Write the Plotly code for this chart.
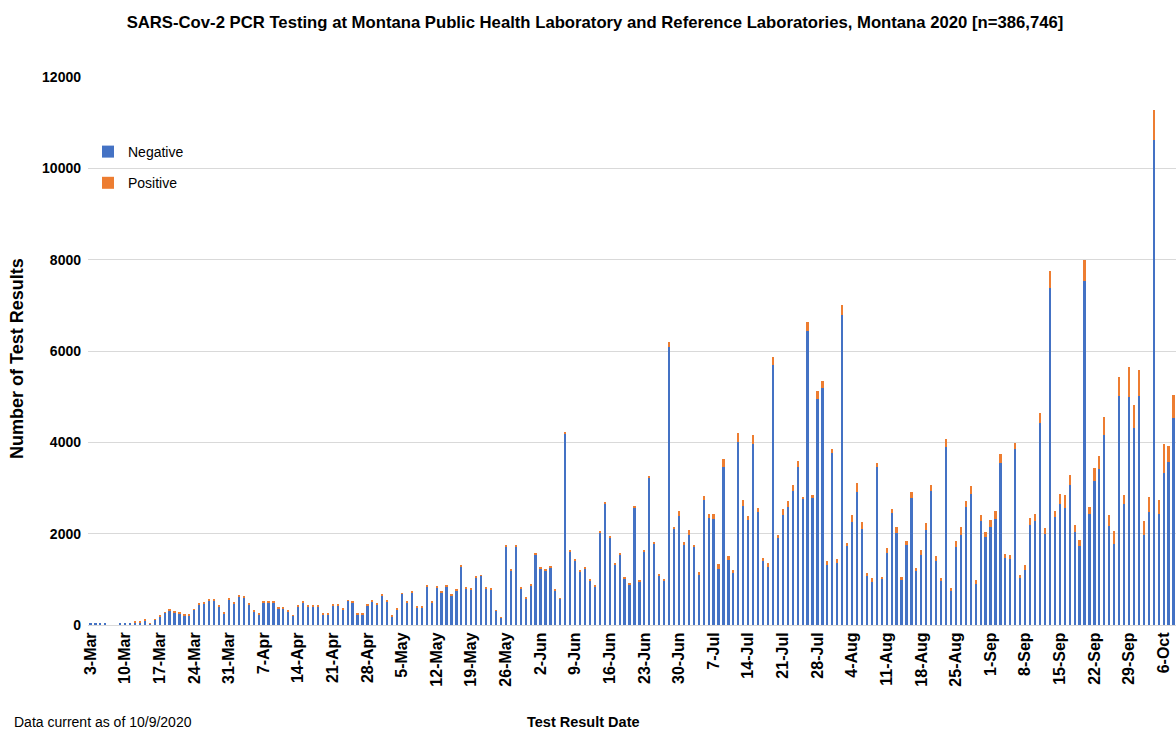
import pandas as pd
import plotly.graph_objects as go

# Daily categories: 3-Mar-2020 .. 8-Oct-2020
dates = pd.date_range("2020-03-03", "2020-10-08", freq="D")
categories = [f"{d.day}-{d.strftime('%b')}" for d in dates]

negative = [
    35, 40, 35, 40, 0, 0, 40, 45, 50, 55,
    55, 90, 40, 110, 180, 270, 315, 270, 260, 200,
    200, 330, 450, 475, 535, 535, 395, 255, 550, 470,
    630, 600, 455, 295, 235, 485, 485, 500, 355, 355,
    295, 205, 415, 495, 395, 395, 395, 240, 240, 425,
    425, 335, 530, 495, 235, 235, 420, 510, 440, 640,
    510, 195, 350, 680, 490, 710, 390, 390, 850, 490,
    825, 710, 850, 655, 765, 1290, 790, 770, 1040, 1075,
    790, 775, 310, 165, 1725, 1190, 1725, 800, 580, 860,
    1540, 1230, 1200, 1265, 760, 585, 4190, 1610, 1415, 1165,
    1235, 985, 845, 2020, 2670, 1920, 1325, 1540, 1015, 895,
    2580, 960, 1610, 3230, 1795, 1085, 980, 6090, 2115, 2380,
    1760, 1980, 1710, 1100, 2730, 2350, 2330, 1230, 3470, 1415,
    1140, 4010, 2600, 2290, 3970, 2470, 1400, 1280, 5690, 1910,
    2410, 2590, 2940, 3470, 2750, 6440, 2790, 4940, 5200, 1310,
    3760, 1350, 6790, 1750, 2260, 2920, 2095, 1070, 950, 3450,
    1020, 1570, 2445, 2020, 990, 1745, 2780, 1180, 1525, 2090,
    2935, 1395, 965, 3900, 760, 1710, 1965, 2585, 2875, 905,
    2280, 1930, 2145, 2330, 3555, 1470, 1435, 3860, 1035, 1210,
    2190, 2280, 4430, 2000, 7390, 2370, 2650, 2560, 3060, 2040,
    1730, 7540, 2440, 3150, 3410, 4150, 2160, 1780, 5020, 2650,
    4990, 4320, 5020, 1970, 2470, 10630, 2430, 3320, 3560, 4530,
]

positive = [
    0, 0, 0, 0, 0, 0, 0, 0, 0, 15,
    15, 20, 2, 20, 20, 10, 25, 20, 20, 20,
    20, 20, 30, 25, 25, 25, 25, 25, 30, 20,
    30, 30, 25, 25, 25, 25, 25, 10, 25, 25,
    25, 5, 25, 25, 25, 25, 25, 20, 20, 25,
    25, 25, 10, 25, 20, 20, 20, 30, 30, 20,
    30, 25, 30, 10, 20, 20, 20, 20, 25, 20,
    30, 20, 25, 5, 15, 30, 30, 20, 30, 20,
    30, 15, 5, 5, 35, 20, 35, 25, 25, 20,
    35, 30, 35, 35, 30, 5, 35, 30, 30, 30,
    25, 30, 30, 30, 30, 30, 35, 35, 30, 30,
    30, 20, 30, 30, 30, 30, 35, 100, 30, 110,
    65, 110, 50, 70, 100, 70, 90, 100, 170, 105,
    65, 190, 130, 90, 180, 90, 75, 70, 185, 60,
    120, 125, 120, 130, 60, 190, 60, 190, 140, 100,
    90, 95, 220, 40, 150, 180, 155, 60, 90, 90,
    25, 120, 85, 130, 60, 95, 125, 70, 125, 150,
    125, 125, 55, 180, 40, 120, 180, 130, 175, 85,
    120, 100, 160, 170, 195, 90, 95, 125, 55, 95,
    150, 150, 220, 130, 370, 130, 220, 280, 220, 150,
    140, 450, 150, 280, 300, 410, 250, 280, 410, 190,
    650, 500, 560, 310, 340, 650, 310, 650, 370, 510,
]

tick_labels = ["3-Mar", "10-Mar", "17-Mar", "24-Mar", "31-Mar", "7-Apr", "14-Apr",
               "21-Apr", "28-Apr", "5-May", "12-May", "19-May", "26-May", "2-Jun",
               "9-Jun", "16-Jun", "23-Jun", "30-Jun", "7-Jul", "14-Jul", "21-Jul",
               "28-Jul", "4-Aug", "11-Aug", "18-Aug", "25-Aug", "1-Sep", "8-Sep",
               "15-Sep", "22-Sep", "29-Sep", "6-Oct"]
y_ticks = [0, 2000, 4000, 6000, 8000, 10000, 12000]

FONT = "Liberation Sans, Arial, sans-serif"

L, T, PW, PH = 88, 77, 1088, 548  # plot area in pixels

fig = go.Figure()
fig.add_trace(go.Bar(x=categories, y=negative, name="Negative",
                     marker=dict(color="#4472C4", line=dict(width=0)),
                     legendgroup="neg"))
fig.add_trace(go.Bar(x=categories, y=positive, name="Positive",
                     marker=dict(color="#ED7D31", line=dict(width=0)),
                     legendgroup="pos"))

fig.update_layout(
    width=1176, height=736,
    barmode="stack", bargap=0.55,
    paper_bgcolor="white", plot_bgcolor="white",
    margin=dict(l=L, r=0, t=T, b=736 - T - PH, autoexpand=False),
    title=dict(
        text="<b>SARS-Cov-2 PCR Testing at Montana Public Health Laboratory and Reference Laboratories, Montana 2020 [n=386,746]</b>",
        font=dict(family=FONT, size=16.7, color="#000000"),
        x=595 / 1176, xanchor="center", xref="container",
        y=1 - 22 / 736, yanchor="middle", yref="container",
    ),
    legend=dict(
        x=(88 - L) / PW, y=(T + PH - 136) / PH, xanchor="left", yanchor="top",
        traceorder="grouped", tracegroupgap=10,
        font=dict(family=FONT, size=14, color="#000000"),
        bgcolor="rgba(0,0,0,0)", itemwidth=30,
    ),
    xaxis=dict(
        type="category",
        categoryorder="array", categoryarray=categories,
        range=[-0.5, len(categories) - 0.5],
        tickmode="array", tickvals=tick_labels, ticktext=[f"<b>{t}</b>" for t in tick_labels],
        tickangle=-90,
        tickfont=dict(family=FONT, size=16, color="#000000"),
        showgrid=False, showline=True, linecolor="#D9D9D9", linewidth=1,
        ticks="",
    ),
    yaxis=dict(
        range=[0, 12000],
        tickmode="array", tickvals=y_ticks, ticktext=[f"<b>{v}</b>" for v in y_ticks],
        tickfont=dict(family=FONT, size=14, color="#000000"),
        ticklabelstandoff=6,
        showgrid=True, gridcolor="#D9D9D9", gridwidth=1,
        zeroline=False, showline=False, ticks="",
    ),
    annotations=[
        dict(text="<b>Number of Test Results</b>", textangle=-90,
             xref="paper", yref="paper", x=(17 - L) / PW, y=(T + PH - 359) / PH,
             xanchor="center", yanchor="middle", showarrow=False,
             font=dict(family=FONT, size=18, color="#000000")),
        dict(text="<b>Test Result Date</b>",
             xref="paper", yref="paper", x=(583 - L) / PW, y=-(722 - T - PH) / PH,
             xanchor="center", yanchor="middle", showarrow=False,
             font=dict(family=FONT, size=14.5, color="#000000")),
        dict(text="Data current as of 10/9/2020",
             xref="paper", yref="paper", x=(12 - L) / PW, y=-(722 - T - PH) / PH,
             xanchor="left", yanchor="middle", showarrow=False,
             font=dict(family=FONT, size=14, color="#000000")),
    ],
)

fig.write_html("out.html", config={"displayModeBar": False},
               post_script="document.body.style.margin='0px';")
